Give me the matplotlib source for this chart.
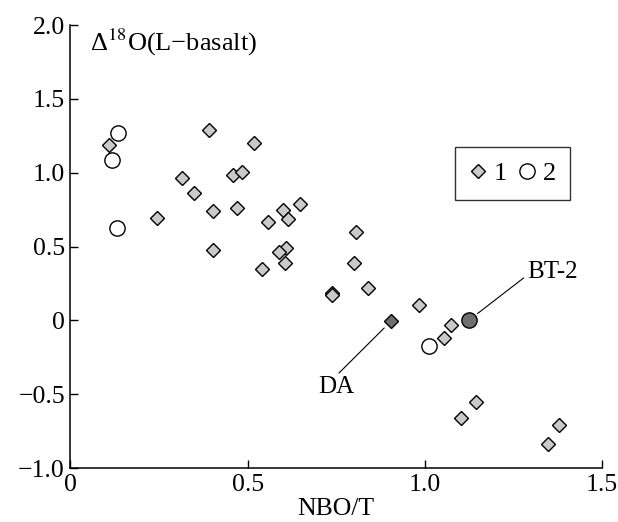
import matplotlib
matplotlib.use('Agg')
import matplotlib.pyplot as plt
from matplotlib.lines import Line2D

plt.rcParams['font.family'] = ['Liberation Serif', 'DejaVu Serif']
plt.rcParams['mathtext.fontset'] = 'stix'

# series 1 (diamonds)
s1_x = [0.110, 0.244, 0.315, 0.349, 0.391, 0.402, 0.402, 0.459, 0.484, 0.471,
        0.518, 0.558, 0.542, 0.599, 0.614, 0.648, 0.607, 0.589, 0.605, 0.806,
        0.799, 0.840, 0.738, 0.738, 0.985, 1.074, 1.053, 1.145, 1.103, 1.378, 1.347]
s1_y = [1.19, 0.69, 0.966, 0.864, 1.286, 0.742, 0.476, 0.984, 1.004, 0.763,
        1.203, 0.668, 0.35, 0.747, 0.688, 0.79, 0.487, 0.465, 0.386, 0.60,
        0.39, 0.22, 0.183, 0.17, 0.104, -0.034, -0.117, -0.55, -0.659, -0.711, -0.84]
# series 2 (circles)
s2_x = [0.135, 0.116, 0.132, 1.011]
s2_y = [1.266, 1.085, 0.623, -0.174]
# highlighted samples
da_x, da_y = [0.905], [-0.005]
bt2_x, bt2_y = [1.124], [0.0]

xticks = [0, 0.5, 1.0, 1.5]
xtick_labels = ['0', '0.5', '1.0', '1.5']
yticks = [-1.0, -0.5, 0, 0.5, 1.0, 1.5, 2.0]
ytick_labels = ['\u22121.0', '\u22120.5', '0', '0.5', '1.0', '1.5', '2.0']

light = '#cacaca'
dark = '#6e6e6e'

fig = plt.figure(figsize=(6.18, 5.22), dpi=100)
ax = fig.add_axes([0.114, 0.1034, 0.86, 0.8486])

ax.plot(s1_x, s1_y, 'D', ms=7.2, mfc=light, mec='black', mew=1.0, linestyle='none', clip_on=False)
ax.plot(s2_x, s2_y, 'o', ms=11, mfc='white', mec='black', mew=1.0, linestyle='none', clip_on=False)
ax.plot(da_x, da_y, 'D', ms=7.2, mfc=dark, mec='black', mew=1.0, linestyle='none')
ax.plot(bt2_x, bt2_y, 'o', ms=11, mfc=dark, mec='black', mew=1.0, linestyle='none')

ax.annotate('DA', xy=(da_x[0], da_y[0]), xytext=(0.75, -0.45), ha='center', va='center',
            fontsize=18, arrowprops=dict(arrowstyle='-', color='black', lw=0.8,
                                         shrinkA=0, shrinkB=7, relpos=(0.5, 1.0)))
ax.annotate('BT-2', xy=(bt2_x[0], bt2_y[0]), xytext=(1.29, 0.33), ha='left', va='center',
            fontsize=18, arrowprops=dict(arrowstyle='-', color='black', lw=0.8,
                                         shrinkA=1, shrinkB=8, relpos=(0.0, 0.35)))

ax.text(0.055, 1.88, '\u0394$^{18}$O(L\u2212basalt)', fontsize=19, ha='left', va='center')

ax.set_xlim(0, 1.5)
ax.set_ylim(-1.0, 2.0)
ax.set_xticks(xticks)
ax.set_xticklabels(xtick_labels)
ax.set_yticks(yticks)
ax.set_yticklabels(ytick_labels)
ax.tick_params(direction='in', length=6, width=1, labelsize=18.5, pad=4)
for s in ['top', 'right']:
    ax.spines[s].set_visible(False)
for s in ['left', 'bottom']:
    ax.spines[s].set_linewidth(1.1)
ax.set_xlabel('NBO/T', fontsize=18.5, labelpad=2)

handles = [Line2D([], [], marker='D', ms=7.2, mfc=light, mec='black', mew=1.0, linestyle='none'),
           Line2D([], [], marker='o', ms=11, mfc='white', mec='black', mew=1.0, linestyle='none')]
leg = ax.legend(handles, ['1', '2'], ncol=2, loc='upper left', bbox_to_anchor=(0.724, 0.7246),
                frameon=True, fancybox=False, edgecolor='black', fontsize=19,
                handlelength=0.6, handletextpad=0.3, columnspacing=0.45, borderpad=0.55,
                borderaxespad=0)
leg.get_frame().set_linewidth(1.0)

fig.savefig('out.png', dpi=100)
